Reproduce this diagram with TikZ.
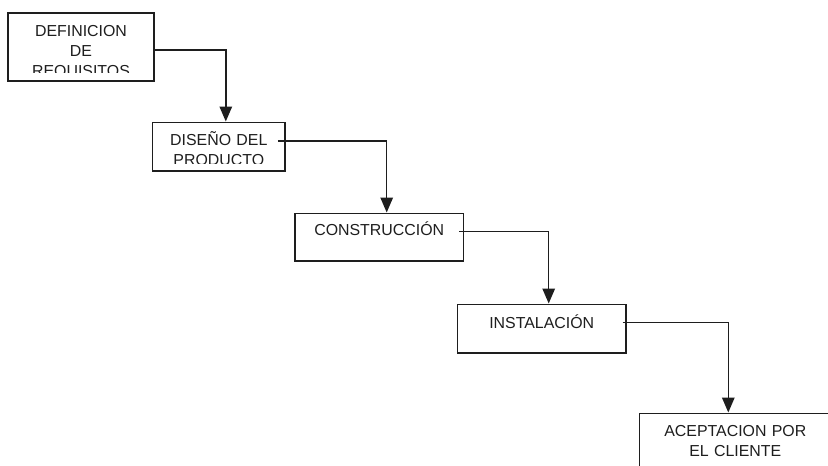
\documentclass[tikz,border=0pt]{standalone}
\usepackage{fontspec}
\setmainfont{Liberation Sans}
\usetikzlibrary{arrows.meta,calc}
\definecolor{ink}{HTML}{1E1E1E}
\tikzset{
  stagebox/.style={draw=ink, line width=1.6pt, fill=none, inner sep=0pt, minimum width=#1},
  stagetext/.style={anchor=base, inner sep=0pt, text=ink, align=center, text width=#1,
    font=\fontsize{15.9}{20}\selectfont},
  flow/.style={draw=ink, line width=1.5pt, -{Triangle[length=15pt,width=12.5pt]}}
}
\begin{document}
\begin{tikzpicture}[x=1pt,y=-1pt]
\clip (0,0) rectangle (828,466);
\fill[white] (0,0) rectangle (828,466);

% stage boxes
\node[stagebox=146pt, minimum height=68pt] (b1) at (81,47) {};
\node[stagebox=132.3pt, minimum height=48.4pt] (b2) at (218.8,146.5) {};
\node[stagebox=168.3pt, minimum height=47.4pt] (b3) at (379.2,237) {};
\node[stagebox=168.7pt, minimum height=48.4pt] (b4) at (541.7,328.5) {};
\node[stagebox=192pt, minimum height=70pt] (b5) at (735.3,448.3) {};

% stage labels, cut off just above the lower edge of each box
\begin{scope}
  \clip (b1.north west) rectangle ($(b1.south east)+(0,-9)$);
  \node[stagetext=140pt] (t1) at ($(b1.north)+(0,24.4)$) {DEFINICION\\DE\\REQUISITOS};
\end{scope}
\begin{scope}
  \clip (b2.north west) rectangle ($(b2.south east)+(0,-8)$);
  \node[stagetext=128pt] (t2) at ($(b2.north)+(0,24.4)$) {DISEÑO DEL\\PRODUCTO};
\end{scope}
\node[stagetext=160pt] (t3) at ($(b3.north)+(0,23.4)$) {CONSTRUCCIÓN};
\node[stagetext=160pt] (t4) at ($(b4.north)+(0,24.6)$) {INSTALACIÓN};
\begin{scope}
  \clip (b5.north west) rectangle ($(b5.south east)+(0,-8)$);
  \node[stagetext=186pt] (t5) at ($(b5.north)+(0,24.1)$) {ACEPTACION POR\\EL CLIENTE};
\end{scope}

% connectors
\draw[flow] ($(b1.east)+(0,3)$) -| ($(b2.north)+(7,0)$);
\draw[flow] ($(b2.east)+(-8,-5.5)$) -| ($(b3.north)+(7.5,0)$);
\draw[flow] ($(b3.east)+(-5,-5.3)$) -| ($(b4.north)+(7,0)$);
\draw[flow] ($(b4.east)+(-4.3,-5.8)$) -| ($(b5.north)+(-7,0)$);
\end{tikzpicture}
\end{document}
